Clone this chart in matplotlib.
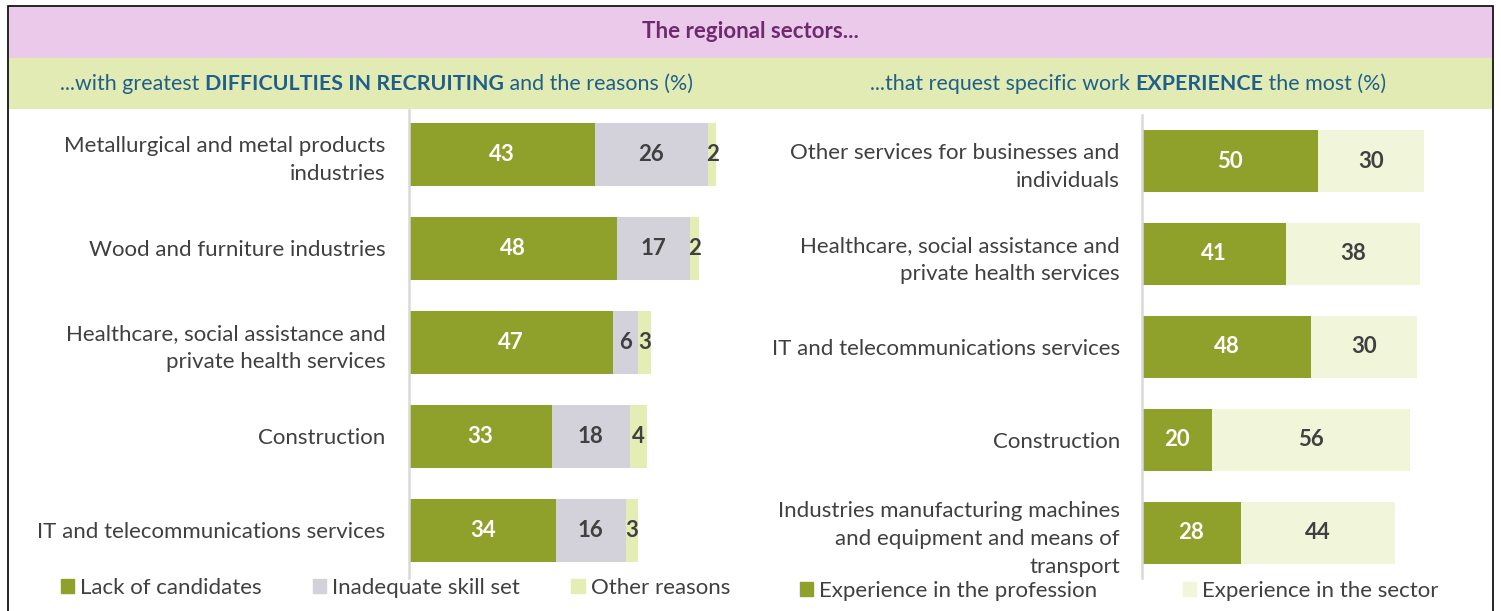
import matplotlib
matplotlib.use("Agg")
import matplotlib.pyplot as plt
from matplotlib.patches import Rectangle, Patch

plt.rcParams['font.family'] = ['Lato', 'DejaVu Sans']

# data - left panel (difficulties in recruiting, %)
left_cats = ["Metallurgical and metal products\nindustries",
             "Wood and furniture industries",
             "Healthcare, social assistance and\nprivate health services",
             "Construction",
             "IT and telecommunications services"]
lack = [43, 48, 47, 33, 34]
skill = [26, 17, 6, 18, 16]
other = [2, 2, 3, 4, 3]
left_series = ["Lack of candidates", "Inadequate skill set", "Other reasons"]

# data - right panel (work experience requested, %)
right_cats = ["Other services for businesses and\nindividuals",
              "Healthcare, social assistance and\nprivate health services",
              "IT and telecommunications services",
              "Construction",
              "Industries manufacturing machines\nand equipment and means of\ntransport"]
prof = [50, 41, 48, 20, 28]
sector = [30, 38, 30, 56, 44]
right_series = ["Experience in the profession", "Experience in the sector"]

GREEN = '#8FA12A'
GREY = '#D3D2DB'
LIGHT = '#E3EDB4'
PALE = '#F1F6DB'
TXT = '#404040'
BLUE = '#1F5F8B'
FS = 16

W, H = 1501, 611
fig = plt.figure(figsize=(W / 100, H / 100), dpi=100)
renderer = fig.canvas.get_renderer()


def fx(px):
    return px / W


def fy(py):
    return 1 - py / H


# header bands and frame
fig.patches.append(Rectangle((fx(9), fy(58)), fx(1483), 51 / H, transform=fig.transFigure,
                             facecolor='#EAC9EA', edgecolor='none', zorder=0))
fig.patches.append(Rectangle((fx(9), fy(109)), fx(1483), 51 / H, transform=fig.transFigure,
                             facecolor='#E2EBB3', edgecolor='none', zorder=0))
fig.patches.append(Rectangle((fx(8), fy(620)), fx(1485), 614 / H, transform=fig.transFigure,
                             facecolor='none', edgecolor='black', linewidth=1.2, zorder=5))

fig.text(0.5, fy(32), "The regional sectors...", ha='center', va='center',
         fontsize=16, fontweight='bold', color='#6E2A6E')


# subtitle with bold words: place the pieces one after another
def chain(x, y, parts, size=15.4):
    for s, b in parts:
        t = fig.text(x, y, s, fontsize=size, color=BLUE, va='baseline', ha='left',
                     fontweight='bold' if b else 'normal')
        x = fig.transFigure.inverted().transform(
            (t.get_window_extent(renderer).x1, 0))[0]


chain(fx(60), fy(90), [("...with greatest ", False), ("DIFFICULTIES IN RECRUITING", True),
                       (" and the reasons (%)", False)])
chain(fx(870), fy(90), [("...that request specific work ", False), ("EXPERIENCE", True),
                        (" the most (%)", False)])

ax1 = fig.add_axes([fx(409), fy(578), 330 / W, 468 / H])
ax2 = fig.add_axes([fx(1142), fy(578), 330 / W, 463 / H])


def style(ax, cats, pad):
    ax.set_yticks(range(len(cats)))
    ax.set_yticklabels(cats, fontsize=FS, color=TXT, linespacing=1.5)
    ax.tick_params(axis='y', length=0, pad=pad)
    ax.set_xticks([])
    for s in ['top', 'right', 'bottom']:
        ax.spines[s].set_visible(False)
    ax.spines['left'].set_color('#D9D9D9')
    ax.spines['left'].set_linewidth(1.8)
    ax.set_facecolor('none')


def label(ax, left, vals, color):
    for i, (l, v) in enumerate(zip(left, vals)):
        ax.text(l + v / 2, i, str(v), ha='center', va='center', fontsize=FS,
                fontweight='bold', color=color)


# left panel
y = range(len(left_cats))
b1 = [a + b for a, b in zip(lack, skill)]
ax1.barh(y, lack, height=0.67, color=GREEN)
ax1.barh(y, skill, left=lack, height=0.67, color=GREY)
ax1.barh(y, other, left=b1, height=0.67, color=LIGHT)
label(ax1, [0] * 5, lack, 'white')
label(ax1, lack, skill, TXT)
label(ax1, b1, other, TXT)
ax1.set_xlim(0, 330 / 4.33)
ax1.set_ylim(4.51, -0.47)
style(ax1, left_cats, 17)

# right panel
y = range(len(right_cats))
ax2.barh(y, prof, height=0.667, color=GREEN)
ax2.barh(y, sector, left=prof, height=0.667, color=PALE)
label(ax2, [0] * 5, prof, 'white')
label(ax2, prof, sector, TXT)
ax2.set_xlim(0, 330 / 3.52)
ax2.set_ylim(4.485, -0.495)
style(ax2, right_cats, 16)

# legends
fig.legend([Patch(color=c) for c in [GREEN, GREY, LIGHT]], left_series,
           loc='center left', bbox_to_anchor=(fx(41), fy(588)), ncol=3, frameon=False,
           fontsize=FS, handlelength=0.6, handleheight=0.6, handletextpad=0.27,
           columnspacing=2.3, labelcolor=TXT)
fig.legend([Patch(color=c) for c in [GREEN, PALE]], right_series,
           loc='center left', bbox_to_anchor=(fx(780), fy(591)), ncol=2, frameon=False,
           fontsize=FS, handlelength=0.6, handleheight=0.6, handletextpad=0.27,
           columnspacing=3.85, labelcolor=TXT)

fig.savefig('out.png', dpi=100, facecolor='white')
